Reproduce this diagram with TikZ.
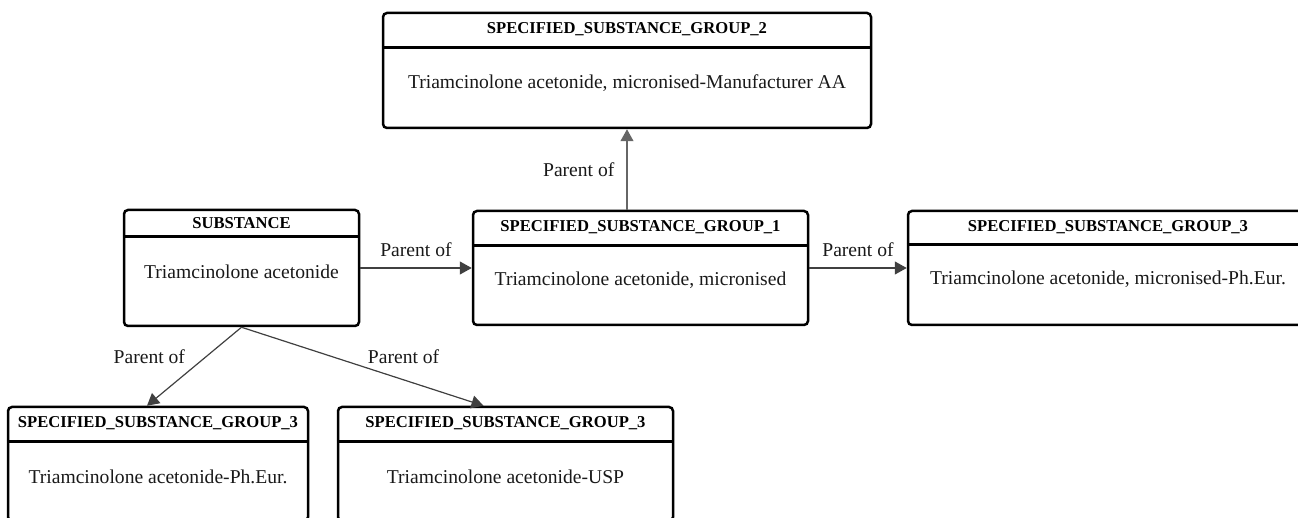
\documentclass[tikz,border=0pt]{standalone}
\usepackage{fontspec}
\setmainfont{Liberation Serif}
\usetikzlibrary{positioning,arrows.meta}

\begin{document}
\begin{tikzpicture}[x=0.5pt, y=-0.5pt,
        entity/.style={draw, line width=1.25pt, rounded corners=2pt, inner sep=0pt},
        header/.style={font=\fontsize{8.3}{10}\selectfont\bfseries, inner sep=0pt, minimum height=17.5pt},
        body/.style={font=\fontsize{9.8}{12}\selectfont, inner sep=0pt, text=black!90},
        divider/.style={line width=1.25pt},
        parent/.style={-{Triangle[length=6pt, width=6.5pt]}, draw=black!75, line width=0.6pt},
        relname/.style={font=\fontsize{9.8}{12}\selectfont, inner sep=0pt, text=black!90}]

        \useasboundingbox (0,0) rectangle (1298,518);
        \clip (0,0) rectangle (1298,518);

        % Boxes (entities)
        \node[entity, minimum width=244pt, minimum height=57.5pt] (G2) at (627, 70.5) {};
        \node[entity, minimum width=117.5pt, minimum height=58pt] (Sub) at (241.5, 268) {};
        \node[entity, minimum width=167.5pt, minimum height=57pt] (G1) at (640.5, 268) {};
        \node[entity, minimum width=200pt, minimum height=57pt] (G3r) at (1108, 268) {};
        \node[entity, minimum width=150pt, minimum height=57pt] (G3l) at (158, 464) {};
        \node[entity, minimum width=167.5pt, minimum height=57pt] (G3m) at (505.5, 464) {};

        % Headers
        \node[header, below=0pt of G2.north] (G2h) {SPECIFIED\_SUBSTANCE\_GROUP\_2};
        \node[header, minimum height=13.5pt, below=0pt of Sub.north] (Subh) {SUBSTANCE};
        \node[header, below=0pt of G1.north] (G1h) {SPECIFIED\_SUBSTANCE\_GROUP\_1};
        \node[header, minimum height=17pt, below=0pt of G3r.north] (G3rh) {SPECIFIED\_SUBSTANCE\_GROUP\_3};
        \node[header, below=0pt of G3l.north] (G3lh) {SPECIFIED\_SUBSTANCE\_GROUP\_3};
        \node[header, below=0pt of G3m.north] (G3mh) {SPECIFIED\_SUBSTANCE\_GROUP\_3};

        % Header dividers
        \draw[divider] (G2.west |- G2h.south) -- (G2.east |- G2h.south);
        \draw[divider] (Sub.west |- Subh.south) -- (Sub.east |- Subh.south);
        \draw[divider] (G1.west |- G1h.south) -- (G1.east |- G1h.south);
        \draw[divider] (G3r.west |- G3rh.south) -- (G3r.east |- G3rh.south);
        \draw[divider] (G3l.west |- G3lh.south) -- (G3l.east |- G3lh.south);
        \draw[divider] (G3m.west |- G3mh.south) -- (G3m.east |- G3mh.south);

        % Body texts
        \node[body, below=13.5pt of G2h.south] (G2b) {Triamcinolone acetonide, micronised-Manufacturer AA};
        \node[body, below=14pt of Subh.south] (Subb) {Triamcinolone acetonide};
        \node[body, below=13pt of G1h.south] (G1b) {Triamcinolone acetonide, micronised};
        \node[body, below=13pt of G3rh.south] (G3rb) {Triamcinolone acetonide, micronised-Ph.Eur.};
        \node[body, below=14pt of G3lh.south] (G3lb) {Triamcinolone acetonide-Ph.Eur.};
        \node[body, below=14pt of G3mh.south] (G3mb) {Triamcinolone acetonide-USP};

        % Connecting Lines (Parent of)
        \draw[parent] (Sub) -- node[relname, above=5.5pt] {Parent of} (G1);
        \draw[parent, draw=black!60] (G1.north -| G2.south) -- node[relname, left=6pt] {Parent of} (G2.south);
        \draw[parent] (G1) -- node[relname, above=5.5pt] {Parent of} (G3r);
        \draw[parent] (Sub.south) -- node[relname, pos=0.38, left=10pt] {Parent of} ([xshift=-5.5pt]G3l.north);
        \draw[parent] (Sub.south) -- node[relname, pos=0.52, above right=2pt and 0pt] {Parent of} ([xshift=-11pt]G3m.north);

    \end{tikzpicture}
\end{document}
